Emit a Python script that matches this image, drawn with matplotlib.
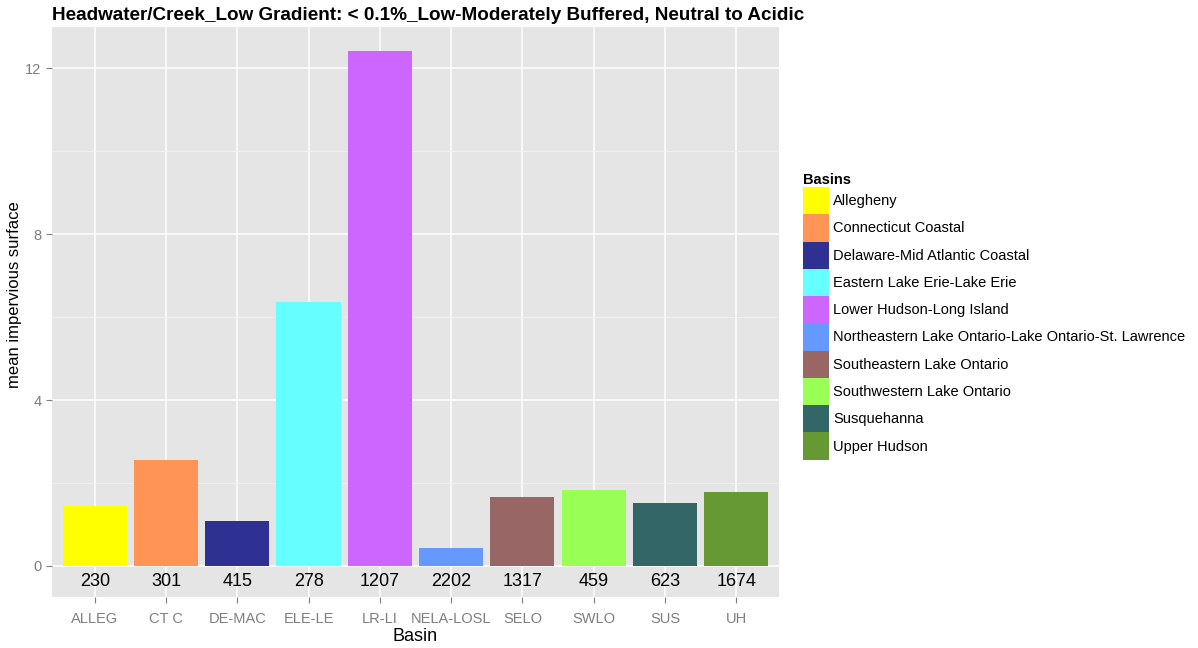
import matplotlib.pyplot as plt
import numpy as np

plt.rcParams['font.family'] = ['Liberation Sans', 'DejaVu Sans']

basin_codes = ['ALLEG', 'CT C', 'DE-MAC', 'ELE-LE', 'LR-LI', 'NELA-LOSL', 'SELO', 'SWLO', 'SUS', 'UH']
basin_names = ['Allegheny', 'Connecticut Coastal', 'Delaware-Mid Atlantic Coastal',
               'Eastern Lake Erie-Lake Erie', 'Lower Hudson-Long Island',
               'Northeastern Lake Ontario-Lake Ontario-St. Lawrence',
               'Southeastern Lake Ontario', 'Southwestern Lake Ontario',
               'Susquehanna', 'Upper Hudson']
mean_impervious = [1.45, 2.56, 1.09, 6.37, 12.41, 0.43, 1.67, 1.83, 1.52, 1.79]
counts = [230, 301, 415, 278, 1207, 2202, 1317, 459, 623, 1674]
colors = ['#FFFF00', '#FF9457', '#2E3192', '#66FFFF', '#CC66FF',
          '#6699FF', '#996666', '#99FF55', '#336666', '#669933']

fig = plt.figure(figsize=(11.98, 6.48), dpi=100)
ax = fig.add_axes([0.0434, 0.0787, 0.6068, 0.8796])
ax.set_facecolor('#E5E5E5')

x = np.arange(len(basin_codes))
bars = ax.bar(x, mean_impervious, width=0.9, color=colors, zorder=3)

# sample counts under each bar
for xi, n in zip(x, counts):
    ax.text(xi, -0.38, str(n), ha='center', va='center', fontsize=13, color='black', zorder=4)

ax.set_xlim(-0.6, len(basin_codes) - 0.4)
ax.set_ylim(-0.75, 13.0)
ax.set_yticks([0, 4, 8, 12])
ax.set_yticks([2, 6, 10], minor=True)
ax.set_xticks(x)
ax.set_xticklabels(basin_codes)
ax.grid(which='major', color='white', linewidth=1.1, zorder=0)
ax.grid(which='minor', axis='y', color='#F2F2F2', linewidth=0.6, zorder=0)
ax.tick_params(which='major', colors='#7F7F7F', labelsize=10.5, length=4, width=0.8)
ax.tick_params(axis='x', which='major', pad=7)
ax.tick_params(which='minor', length=0)
for s in ax.spines.values():
    s.set_visible(False)

ax.set_xlabel('Basin', fontsize=13)
ax.xaxis.set_label_coords(0.5, -0.054)
ax.set_ylabel('mean impervious surface', fontsize=12)
ax.yaxis.set_label_coords(-0.041, 0.53)
ax.set_title('Headwater/Creek_Low Gradient: < 0.1%_Low-Moderately Buffered, Neutral to Acidic',
             fontsize=13.6, fontweight='bold', loc='left', x=0.0, pad=5)

handles = [plt.Rectangle((0, 0), 1, 1, facecolor=c) for c in colors]
leg = fig.legend(handles, basin_names, title='Basins', loc='upper left',
                 bbox_to_anchor=(0.6657, 0.742), frameon=False, fontsize=10.5,
                 title_fontproperties={'weight': 'bold', 'size': 10.5},
                 handlelength=1.75, handleheight=2.5, handletextpad=0.3,
                 labelspacing=0.0, borderaxespad=0.0)
leg._legend_box.align = 'left'

fig.savefig('out.png', dpi=100)
